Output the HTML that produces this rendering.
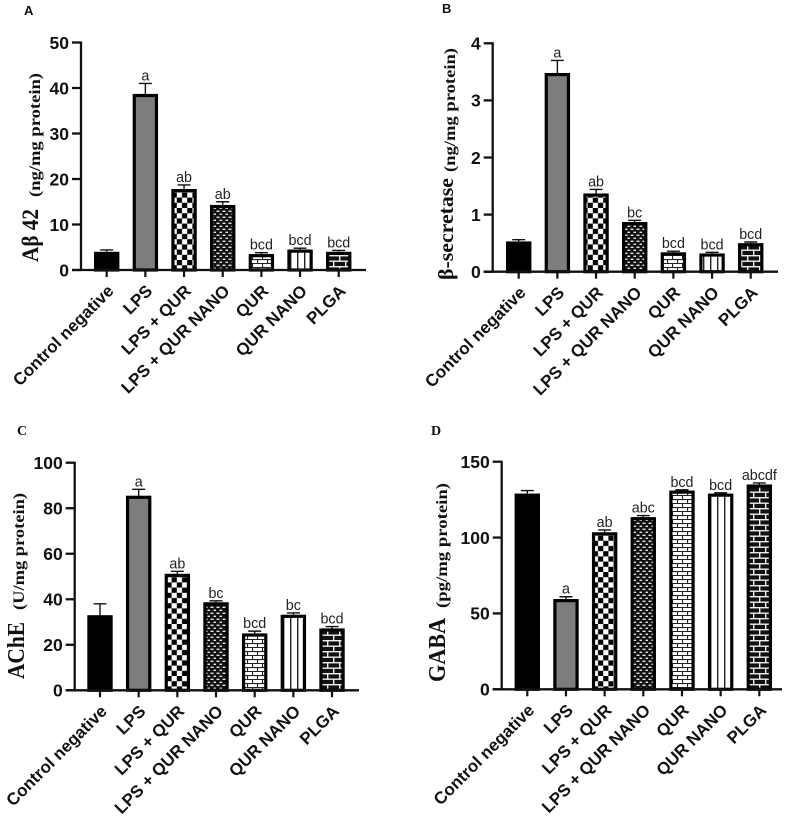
<!DOCTYPE html>
<html>
<head>
<meta charset="utf-8">
<style>
html,body{margin:0;padding:0;background:#fff;}
svg{display:block;filter:blur(0.3px);}
.tick{font:bold 17.5px "Liberation Sans",sans-serif;fill:#111;}
.cat{font:bold 17px "Liberation Sans",sans-serif;fill:#111;}
.sig{font:14.3px "Liberation Sans",sans-serif;fill:#222;}
.title{font-family:"Liberation Serif",serif;font-weight:bold;fill:#111;}
</style>
</head>
<body>
<svg id="fig" width="789" height="819" viewBox="0 0 789 819" xmlns="http://www.w3.org/2000/svg">
<defs>
<pattern id="p-solid-black" width="4" height="4" patternUnits="userSpaceOnUse"><rect width="4" height="4" fill="#000"/></pattern>
<pattern id="p-solid-gray" width="4" height="4" patternUnits="userSpaceOnUse"><rect width="4" height="4" fill="#7d7d7d"/></pattern>
<pattern id="p-checker" width="10.4" height="10.4" patternUnits="userSpaceOnUse"><rect width="10.4" height="10.4" fill="#fff"/><rect width="5.2" height="5.2" fill="#000"/><rect x="5.2" y="5.2" width="5.2" height="5.2" fill="#000"/></pattern>
<pattern id="p-dense" width="6" height="6" patternUnits="userSpaceOnUse"><rect width="6" height="6" fill="#111"/><rect x="0.5" y="0.6" width="3" height="1.4" fill="#e4e4e4"/><rect x="3.5" y="3.6" width="2.6" height="1.4" fill="#e4e4e4"/></pattern>
<pattern id="p-brick-light" width="10" height="8" patternUnits="userSpaceOnUse"><rect width="10" height="8" fill="#fff"/><rect y="3" width="10" height="1.1" fill="#222"/><rect y="7" width="10" height="1.1" fill="#222"/><rect x="2" width="1.1" height="3" fill="#222"/><rect x="7" y="4" width="1.1" height="3" fill="#222"/></pattern>
<pattern id="p-stripes" width="7" height="7" patternUnits="userSpaceOnUse"><rect width="7" height="7" fill="#fff"/><rect x="3" width="1.4" height="7" fill="#222"/></pattern>
<pattern id="p-brick-dark" width="12" height="11" patternUnits="userSpaceOnUse"><rect width="12" height="11" fill="#111"/><rect y="2" width="12" height="1.4" fill="#eee"/><rect y="7.5" width="12" height="1.4" fill="#eee"/><rect x="3" y="2" width="1.4" height="5.5" fill="#eee"/><rect x="9" y="7.5" width="1.4" height="3.5" fill="#eee"/><rect x="9" y="0" width="1.4" height="2" fill="#eee"/></pattern>
</defs>
</svg>
<script>
const categories = ["Control negative", "LPS", "LPS + QUR", "LPS + QUR NANO", "QUR", "QUR NANO", "PLGA"];
const fills = ["p-solid-black", "p-solid-gray", "p-checker", "p-dense", "p-brick-light", "p-stripes", "p-brick-dark"];

const valuesA = [4, 38.7, 17.8, 14.3, 3.5, 4.5, 4];
const errorTopsA = [4.4, 41, 18.7, 15, 3.8, 4.8, 4.3];
const lettersA = ["", "a", "ab", "ab", "bcd", "bcd", "bcd"];
const ticksA = [0, 10, 20, 30, 40, 50];

const valuesB = [0.53, 3.48, 1.37, 0.87, 0.34, 0.32, 0.5];
const errorTopsB = [0.56, 3.7, 1.44, 0.9, 0.36, 0.34, 0.52];
const lettersB = ["", "a", "ab", "bc", "bcd", "bcd", "bcd"];
const ticksB = [0, 1, 2, 3, 4];

const valuesC = [33, 85.5, 51.2, 38.7, 25, 33.2, 27.2];
const errorTopsC = [38, 88.3, 52.3, 39.3, 26, 34, 28];
const lettersC = ["", "a", "ab", "bc", "bcd", "bc", "bcd"];
const ticksC = [0, 20, 40, 60, 80, 100];

const valuesD = [129, 59.5, 103.5, 113.5, 131, 129, 135];
const errorTopsD = [131, 61, 105, 114.5, 131.5, 129.5, 136];
const lettersD = ["", "a", "ab", "abc", "bcd", "bcd", "abcdf"];
const ticksD = [0, 50, 100, 150];

const NS = "http://www.w3.org/2000/svg";
const fig = document.getElementById("fig");

function mk(parent, tag, attrs, text) {
  const el = document.createElementNS(NS, tag);
  for (const k in attrs) el.setAttribute(k, attrs[k]);
  if (text !== undefined) el.textContent = text;
  parent.appendChild(el);
  return el;
}

function drawPanel(cfg) {
  const g = mk(fig, "g", {});
  
  
  const yScale = v => cfg.y0 - (v / cfg.yMax) * (cfg.y0 - cfg.yTop);
  const xScale = i => cfg.firstX + i * 38.67;

  const letter = mk(g, "text", {x: cfg.letter.x, y: cfg.letter.y, "font-size": cfg.letter.size, "font-weight": "bold", "font-family": cfg.letter.family, fill: "#111"}, cfg.key);
  
  

  cfg.values.forEach((v, i) => {
    const cx = xScale(i);
    const top = yScale(v);
    const errY = yScale(cfg.errs[i]);
    const err = mk(g, "path", {d: "M" + cx + " " + top + "V" + errY + "M" + (cx - 6.5) + " " + errY + "H" + (cx + 6.5), stroke: "#111", "stroke-width": 1.4, fill: "none"});
    
    
    const bar = mk(g, "rect", {x: cx - 11.1, y: top + 1.6, width: 22.2, height: Math.max(cfg.y0 - top - 1.6, 0), fill: "url(#" + fills[i] + ")", stroke: "#000", "stroke-width": 3.2});
    
    
    if (cfg.letters[i]) {
      const sig = mk(g, "text", {x: cx, y: errY - 3, "text-anchor": "middle", "class": "sig"}, cfg.letters[i]);
      
      
    }
    const xt = mk(g, "line", {x1: cx, x2: cx, y1: cfg.y0, y2: cfg.y0 + 7, stroke: "#111", "stroke-width": 2.2});
    
    
    const lx = cx + 8;
    const ly = cfg.y0 + 22;
    const cat = mk(g, "text", {x: lx, y: ly, "text-anchor": "end", transform: "rotate(-45 " + lx + " " + ly + ")", "class": "cat"}, categories[i]);
    
    
  });

  const yAxis = mk(g, "line", {x1: cfg.axisX, x2: cfg.axisX, y1: cfg.yTop - 1, y2: cfg.y0 + 1, stroke: "#111", "stroke-width": 2.3});
  
  
  const xAxis = mk(g, "line", {x1: cfg.axisX - 9, x2: cfg.xEnd, y1: cfg.y0, y2: cfg.y0, stroke: "#111", "stroke-width": 2.3});
  
  

  cfg.ticks.forEach(t => {
    const y = yScale(t);
    const tk = mk(g, "line", {x1: cfg.axisX - 9, x2: cfg.axisX, y1: y, y2: y, stroke: "#111", "stroke-width": 2.3});
    
    
    const lb = mk(g, "text", {x: cfg.axisX - 12, y: y + 6.3, "text-anchor": "end", "class": "tick"}, String(t));
    
    
  });

  const m = cfg.main;
  const mt = mk(g, "text", {x: m.x, y: m.start, transform: "rotate(-90 " + m.x + " " + m.start + ")", "class": "title", "font-size": m.size, textLength: m.len, lengthAdjust: "spacingAndGlyphs"}, m.text);
  
  
  const s = cfg.sub;
  const st = mk(g, "text", {x: s.x, y: s.start, transform: "rotate(-90 " + s.x + " " + s.start + ")", "class": "title", "font-size": s.size, textLength: s.len, lengthAdjust: "spacingAndGlyphs"}, s.text);
  
  
}

drawPanel({key: "A", values: valuesA, errs: errorTopsA, letters: lettersA, ticks: ticksA, yMax: 50,
  axisX: 81, yTop: 42.5, y0: 270, firstX: 106.7, xEnd: 366,
  letter: {x: 24, y: 15, size: 13, family: '"Liberation Sans",sans-serif'},
  main: {text: "A\u03b2 42", x: 38, start: 262, size: 23, len: 53},
  sub: {text: "(ng/mg protein)", x: 40, start: 197, size: 15.5, len: 124}});

drawPanel({key: "B", values: valuesB, errs: errorTopsB, letters: lettersB, ticks: ticksB, yMax: 4,
  axisX: 492.7, yTop: 43.3, y0: 271.7, firstX: 518.7, xEnd: 778,
  letter: {x: 442, y: 13, size: 13, family: '"Liberation Sans",sans-serif'},
  main: {text: "\u03b2-secretase", x: 453, start: 280, size: 21, len: 102},
  sub: {text: "(ng/mg protein)", x: 455, start: 172, size: 15.5, len: 124}});

drawPanel({key: "C", values: valuesC, errs: errorTopsC, letters: lettersC, ticks: ticksC, yMax: 100,
  axisX: 74.7, yTop: 462.7, y0: 690.3, firstX: 100, xEnd: 359,
  letter: {x: 17, y: 435, size: 14, family: '"Liberation Serif",serif'},
  main: {text: "AChE", x: 24, start: 679, size: 24, len: 57},
  sub: {text: "(U/mg protein)", x: 24, start: 610, size: 15.5, len: 117}});

drawPanel({key: "D", values: valuesD, errs: errorTopsD, letters: lettersD, ticks: ticksD, yMax: 150,
  axisX: 501.7, yTop: 461.7, y0: 689.3, firstX: 527.3, xEnd: 782,
  letter: {x: 431, y: 435, size: 14, family: '"Liberation Serif",serif'},
  main: {text: "GABA", x: 445, start: 682, size: 24, len: 64},
  sub: {text: "(pg/mg protein)", x: 447, start: 608, size: 15.5, len: 125}});
</script>
</body>
</html>
